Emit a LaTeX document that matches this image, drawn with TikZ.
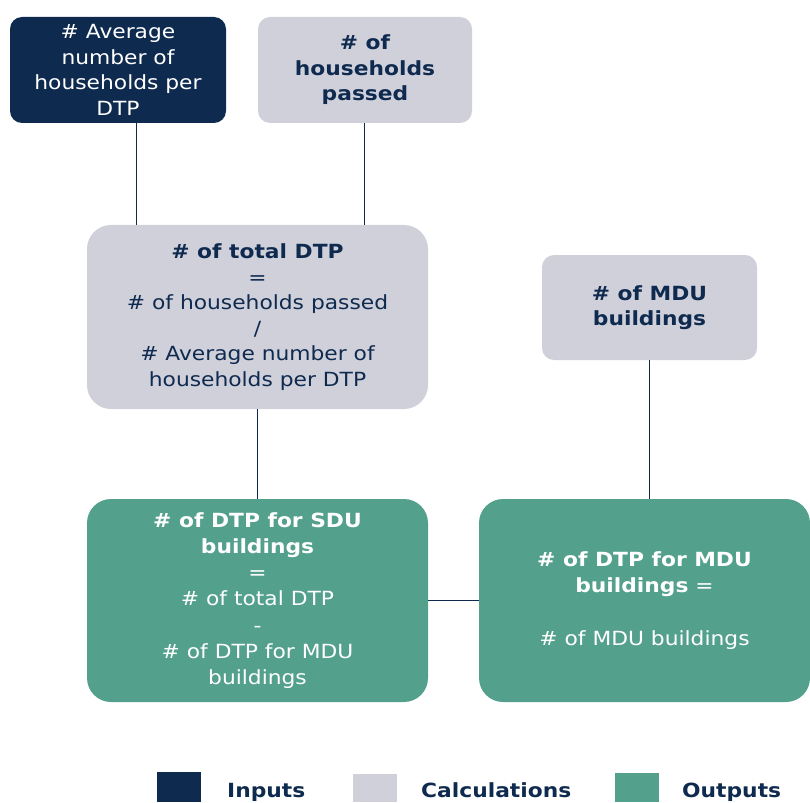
\documentclass[tikz,border=0pt]{standalone}
\usepackage{fontspec}
\setmainfont{DejaVu Sans}[FakeStretch=1.117]
\definecolor{navy}{HTML}{0E2A4E}
\definecolor{calcgray}{HTML}{D0D0DB}
\definecolor{outgreen}{HTML}{53A08C}
\begin{document}
\begin{tikzpicture}[x=1pt,y=-1pt,
  box/.style={rounded corners=12pt, align=center, inner sep=0pt,
    font=\fontsize{19.5}{25.5}\selectfont},
  inbox/.style={box, fill=navy, text=white},
  calcbox/.style={box, fill=calcgray, text=navy},
  outbox/.style={box, fill=outgreen, text=white, rounded corners=24pt,
    font=\fontsize{19.5}{26.2}\selectfont},
  link/.style={draw=navy, line width=0.9pt},
  key/.style={minimum width=44pt, minimum height=30pt, inner sep=0pt, anchor=south west},
  keytext/.style={text=navy, font=\bfseries\fontsize{19.5}{22}\selectfont, anchor=base west, inner sep=0pt}
]
\useasboundingbox (0,0) rectangle (810,802);

% input and calculation boxes
\node[inbox, minimum width=216pt, minimum height=106pt] (avg) at (118,70)
  {\# Average\\number of\\households per\\DTP};
\node[calcbox, minimum width=214pt, minimum height=106pt] (hh) at (365,70)
  {\textbf{\# of}\\\textbf{households}\\\textbf{passed}};
\node[calcbox, rounded corners=24pt, minimum width=341pt, minimum height=184pt] (total) at (257.5,317)
  {\textbf{\# of total DTP}\\=\\\# of households passed\\/\\\# Average number of\\households per DTP};
\node[calcbox, minimum width=215pt, minimum height=105pt] (mdub) at (649.5,307.5)
  {\textbf{\# of MDU}\\\textbf{buildings}};

% output boxes
\node[outbox, minimum width=341pt, minimum height=203pt] (sdu) at (257.5,600.5)
  {\textbf{\# of DTP for SDU}\\\textbf{buildings}\\=\\\# of total DTP\\-\\\# of DTP for MDU\\buildings};
\node[outbox, minimum width=331pt, minimum height=203pt] (mdu) at (644.5,600.5)
  {\textbf{\# of DTP for MDU}\\\textbf{buildings} =\\[26.2pt]\# of MDU buildings};

% connectors
\draw[link] (avg.south -| 136,0) -- (total.north -| 136,0);
\draw[link] (hh.south -| 364,0) -- (total.north -| 364,0);
\draw[link] (total.south) -- (sdu.north);
\draw[link] (mdub.south) -- (mdu.north -| mdub.south);
\draw[link] (sdu.east) -- (mdu.west);

% legend
\node[key, fill=navy, minimum height=30pt] (kin) at (157,802) {};
\node[keytext] (tin) at (227,797) {Inputs};
\node[key, fill=calcgray, minimum height=28pt] (kcalc) at (353,802) {};
\node[keytext] (tcalc) at (421,797) {Calculations};
\node[key, fill=outgreen, minimum height=29pt] (kout) at (615,802) {};
\node[keytext] (tout) at (682,797) {Outputs};
\end{tikzpicture}
\end{document}
